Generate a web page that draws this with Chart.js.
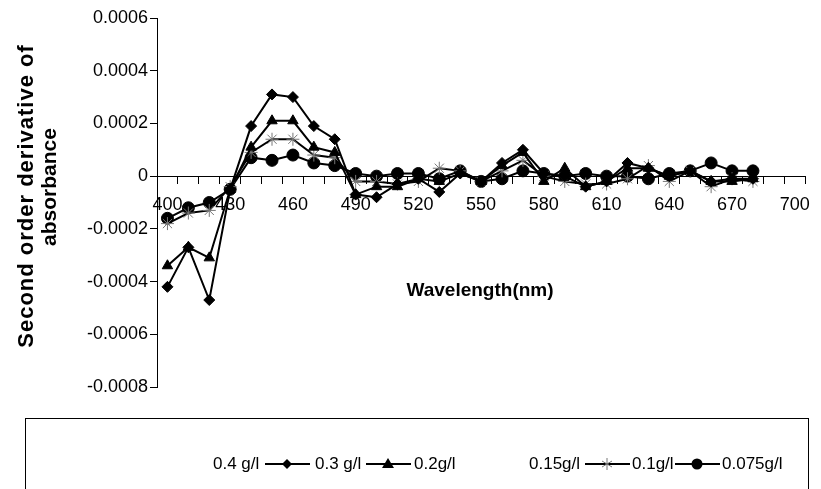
<!DOCTYPE html>
<html>
<head>
<title>Second order derivative</title>
<script src="https://cdn.jsdelivr.net/npm/chart.js@4.4.2/dist/chart.umd.min.js"></script>
<style>
html, body {
    margin: 0;
    padding: 0;
    background: #fff;
}
#wrap {
    position: relative;
    width: 821px;
    height: 489px;
    overflow: hidden;
    font-family: "Liberation Sans", Arial, sans-serif;
}
#chart {
    position: absolute;
    left: 0;
    top: 0;
}
#legendBox {
    position: absolute;
    left: 25px;
    top: 418px;
    width: 782px;
    height: 120px;
    border: 1px solid #000;
}
.sym, .lbl {
    position: absolute;
    top: 453px;
    height: 22px;
    line-height: 22px;
    font-size: 17px;
    color: #000;
}
</style>
</head>
<body>
<div id="wrap">
    <canvas id="chart" width="821" height="489"></canvas>
    <div id="legendBox"></div>
    <div id="legend"></div>
</div>
<script>
// wavelength categories (nm), tick label every 30 nm
const wavelengths = [400, 410, 420, 430, 440, 450, 460, 470, 480, 490, 500, 510, 520, 530, 540,
    550, 560, 570, 580, 590, 600, 610, 620, 630, 640, 650, 660, 670, 680, 690, 700];

// 400..680 nm
const conc04 = [];   // no visible line/marker in the reference
const conc03 = [-0.00042, -0.00027, -0.00047, -0.00005, 0.00019, 0.00031, 0.00030, 0.00019, 0.00014, -0.00007,
    -0.00008, -0.00003, -0.00001, -0.00006, 0.00001, -0.00002, 0.00005, 0.00010, 0.00001, 0.00000,
    -0.00004, -0.00002, 0.00005, 0.00003, 0.00000, 0.00002, -0.00002, -0.00001, -0.00001];
const conc02 = [-0.00034, -0.00027, -0.00031, -0.00005, 0.00011, 0.00021, 0.00021, 0.00011, 0.00009, -0.00007,
    -0.00004, -0.00004, -0.00001, -0.00002, 0.00001, -0.00002, 0.00004, 0.00009, -0.00002, 0.00003,
    -0.00004, -0.00002, 0.00003, 0.00003, 0.00000, 0.00002, -0.00002, -0.00002, -0.00001];
const conc015 = [];  // no visible line/marker in the reference
const conc01 = [-0.00018, -0.00014, -0.00013, -0.00004, 0.00009, 0.00014, 0.00014, 0.00008, 0.00007, -0.00002,
    -0.00002, -0.00003, -0.00002, 0.00003, 0.00002, -0.00002, 0.00002, 0.00006, 0.00000, -0.00002,
    -0.00003, -0.00003, -0.00001, 0.00004, -0.00002, 0.00002, -0.00004, -0.00001, -0.00002];
const conc0075 = [-0.00016, -0.00012, -0.00010, -0.00005, 0.00007, 0.00006, 0.00008, 0.00005, 0.00004, 0.00001,
    0.00000, 0.00001, 0.00001, -0.00001, 0.00002, -0.00002, -0.00001, 0.00002, 0.00001, 0.00000,
    0.00001, 0.00000, 0.00000, -0.00001, 0.00001, 0.00002, 0.00005, 0.00002, 0.00002];

const seriesNames = ["0.4 g/l", "0.3 g/l", "0.2g/l", "0.15g/l", "0.1g/l", "0.075g/l"];
const yTicks = [-0.0008, 0.0006, 0.0002];  // min, max, step

const FONT = "'Liberation Sans', Arial, sans-serif";

// axis titles drawn where Excel put them
const axisTitles = {
    id: "axisTitles",
    afterDraw(chart) {
        const ctx = chart.ctx;
        ctx.save();
        ctx.fillStyle = "#000";
        ctx.textAlign = "center";
        ctx.textBaseline = "middle";
        ctx.font = "bold 19px " + FONT;
        ctx.fillText("Wavelength(nm)", 480, 291);
        ctx.rotate(-Math.PI / 2);
        ctx.font = "bold 22px " + FONT;
        ctx.letterSpacing = "1px";
        ctx.fillText("Second order derivative of", -196, 27);
        ctx.letterSpacing = "0px";
        ctx.font = "bold 21px " + FONT;
        ctx.fillText("absorbance", -187, 50);
        ctx.restore();
    }
};

const mk = (label, data, style, radius, extra) => Object.assign({
    label: label,
    data: data,
    borderColor: "#000",
    backgroundColor: "#000",
    borderWidth: 2,
    pointStyle: style,
    pointRadius: radius,
    pointBorderWidth: 1,
    pointBackgroundColor: "#000",
    pointBorderColor: "#000",
    tension: 0
}, extra || {});

const ctx = document.getElementById("chart").getContext("2d");
const chart = new Chart(ctx, {
    type: "line",
    data: {
        labels: wavelengths,
        datasets: [
            mk(seriesNames[0], conc04, false, 0, {borderWidth: 0}),
            mk(seriesNames[1], conc03, "rectRot", 5.5),
            mk(seriesNames[2], conc02, "triangle", 6),
            mk(seriesNames[3], conc015, false, 0, {borderWidth: 0}),
            mk(seriesNames[4], conc01, "star", 6.5, {pointBorderColor: "#777", pointBorderWidth: 1}),
            mk(seriesNames[5], conc0075, "circle", 6)
        ]
    },
    options: {
        responsive: false,
        animation: false,
        devicePixelRatio: 1,
        layout: {
            padding: {left: 67, right: 13, top: 18, bottom: 102}
        },
        plugins: {
            legend: {display: false},
            tooltip: {enabled: false}
        },
        scales: {
            x: {
                type: "category",
                position: {y: 0},
                offset: true,
                afterFit: (s) => { s.height = 0; },
                grid: {
                    display: true,
                    offset: true,
                    drawOnChartArea: false,
                    drawTicks: true,
                    tickLength: 7,
                    color: "#000",
                    lineWidth: 1
                },
                border: {display: true, color: "#000", width: 1},
                ticks: {
                    autoSkip: false,
                    maxRotation: 0,
                    padding: 11,
                    color: "#000",
                    font: {family: FONT, size: 18},
                    callback: function (v) {
                        const w = wavelengths[v];
                        return (w - 400) % 30 === 0 ? String(w) : "";
                    }
                }
            },
            y: {
                position: "left",
                min: yTicks[0],
                max: yTicks[1],
                afterFit: (s) => { s.width = 90; },
                grid: {
                    display: true,
                    drawOnChartArea: false,
                    drawTicks: true,
                    tickLength: 7,
                    color: "#000"
                },
                border: {display: true, color: "#000", width: 1},
                ticks: {
                    stepSize: yTicks[2],
                    padding: 2,
                    color: "#000",
                    font: {family: FONT, size: 18},
                    callback: (v) => Math.abs(v) < 1e-9 ? "0" : v.toFixed(4)
                }
            }
        }
    },
    plugins: [axisTitles]
});

// Excel style legend: symbol then label
const legendPos = [
    {sym: null, symX: 164, lblX: 213},
    {sym: "diamond", symX: 265, lblX: 315},
    {sym: "triangle", symX: 366, lblX: 414},
    {sym: null, symX: 480, lblX: 529},
    {sym: "star", symX: 585, lblX: 632},
    {sym: "circle", symX: 675, lblX: 722}
];
const symbolSvg = (kind) => {
    let m = "";
    if (kind === "diamond") m = '<polygon points="22,6 27,11 22,16 17,11" fill="#000"/>';
    if (kind === "triangle") m = '<polygon points="22,5 28,15 16,15" fill="#000"/>';
    if (kind === "star") m = '<g stroke="#777" stroke-width="1"><line x1="22" y1="5" x2="22" y2="17"/><line x1="17" y1="8" x2="27" y2="14"/><line x1="17" y1="14" x2="27" y2="8"/></g>';
    if (kind === "circle") m = '<circle cx="22" cy="11" r="5.5" fill="#000"/>';
    return '<svg width="45" height="22"><line x1="0" y1="11" x2="45" y2="11" stroke="#000" stroke-width="2"/>' + m + '</svg>';
};
const legendEl = document.getElementById("legend");
legendPos.forEach((p, i) => {
    if (p.sym) {
        const s = document.createElement("div");
        s.className = "sym";
        s.style.left = p.symX + "px";
        s.innerHTML = symbolSvg(p.sym);
        legendEl.appendChild(s);
    }
    const l = document.createElement("div");
    l.className = "lbl";
    l.style.left = p.lblX + "px";
    l.textContent = seriesNames[i];
    legendEl.appendChild(l);
});
</script>
</body>
</html>
